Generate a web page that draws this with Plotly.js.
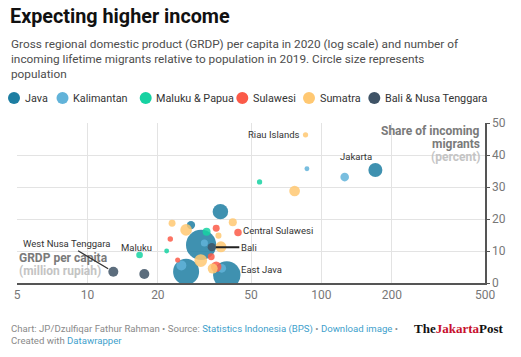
<!DOCTYPE html>
<html>
<head>
<meta charset="utf-8">
<script src="https://cdn.plot.ly/plotly-3.0.1.min.js"></script>
<style>
  html, body { margin: 0; padding: 0; background: #fff; }
  #chart { width: 521px; height: 357px; }
</style>
</head>
<body>
<div id="chart"></div>
<script>
// ---------- DATA ----------
const groups = ["Java", "Kalimantan", "Maluku & Papua", "Sulawesi", "Sumatra", "Bali & Nusa Tenggara"];
const groupColors = ["#1d7ea2", "#62b3d9", "#16d2a2", "#fb5a48", "#ffc872", "#3f5366"];

// GRDP per capita 2020 (million rupiah), share of incoming migrants (%), population (million)
const javaNames = ["Jakarta", "Banten", "West Java", "Central Java", "East Java", "Yogyakarta"];
const javaGrdp = [170, 37.0, 30.6, 26.4, 39.4, 27.7];
const javaMigr = [35.3, 22.3, 11.9, 3.5, 2.5, 18.1];
const javaPop = [10.6, 12.9, 49.3, 36.5, 40.7, 3.7];

const kalNames = ["North Kalimantan", "East Kalimantan", "Central Kalimantan", "South Kalimantan", "West Kalimantan"];
const kalGrdp = [86.7, 125.7, 31.6, 37.5, 25.2];
const kalMigr = [35.7, 33.1, 12.5, 4.6, 5.5];
const kalPop = [1.3, 4.0, 2.7, 4.1, 5.4];

const malNames = ["West Papua", "Papua", "North Maluku", "Maluku"];
const malGrdp = [54.4, 32.3, 21.8, 16.7];
const malMigr = [31.6, 16.0, 10.0, 8.75];
const malPop = [1.5, 3.4, 1.3, 2.4];

const sulNames = ["Central Sulawesi", "North Sulawesi", "Southeast Sulawesi", "Gorontalo", "West Sulawesi", "South Sulawesi"];
const sulGrdp = [44.0, 35.5, 33.8, 22.6, 24.3, 35.5];
const sulMigr = [15.8, 17.1, 8.2, 13.75, 7.2, 5.1];
const sulPop = [3.0, 2.6, 2.6, 1.6, 1.4, 6.0];

const sumNames = ["Riau Islands", "Riau", "Jambi", "Bengkulu", "West Sumatra", "Bangka Belitung", "South Sumatra", "Lampung", "North Sumatra"];
const sumGrdp = [85.5, 76.8, 41.8, 23.0, 26.4, 36.3, 37.2, 30.5, 34.3];
const sumMigr = [46.3, 28.75, 19.0, 18.7, 16.6, 14.8, 11.3, 7.0, 4.5];
const sumPop = [1.5, 6.2, 3.5, 2.6, 7.4, 2.0, 6.5, 8.7, 5.4];

const balNames = ["Bali", "West Nusa Tenggara", "East Nusa Tenggara"];
const balGrdp = [34.0, 12.9, 17.5];
const balMigr = [11.2, 3.5, 2.8];
const balPop = [3.7, 5.4, 5.4];

const xTicks = [5, 10, 20, 50, 100, 200, 500];
const yTicks = [0, 10, 20, 30, 40, 50];
const labelled = ["Riau Islands", "Jakarta", "Central Sulawesi", "Bali", "East Java", "West Nusa Tenggara", "Maluku"];

// ---------- BUILD ----------
const series = [
  [javaNames, javaGrdp, javaMigr, javaPop],
  [kalNames, kalGrdp, kalMigr, kalPop],
  [malNames, malGrdp, malMigr, malPop],
  [sulNames, sulGrdp, sulMigr, sulPop],
  [sumNames, sumGrdp, sumMigr, sumPop],
  [balNames, balGrdp, balMigr, balPop]
];

const FONT = "Roboto, 'Noto Sans', Arial, sans-serif";

const traces = series.map((s, i) => ({
  type: "scatter",
  mode: "markers",
  name: groups[i],
  text: s[0],
  x: s[1],
  y: s[2],
  marker: {
    size: s[3],
    sizemode: "area",
    sizeref: 0.108,
    color: groupColors[i],
    opacity: 0.85,
    line: { width: 0 }
  },
  hoverinfo: "text",
  showlegend: false
}));

// lookup of labelled points
const lookup = {};
series.forEach(s => s[0].forEach((n, j) => { lookup[n] = { x: s[1][j], y: s[2][j] }; }));

// pixel helpers for paper coordinates (plot area: x 17..485, y 123..283)
const PL = 17, PR = 485, PT = 123, PB = 283;
const pxX = p => (p - PL) / (PR - PL);
const pxY = p => (PB - p) / (PB - PT);

const annotations = [];
const shapes = [];

function paperText(text, xpx, ypx, opts) {
  annotations.push(Object.assign({
    text: text, xref: "paper", yref: "paper", x: pxX(xpx), y: pxY(ypx),
    xanchor: "left", yanchor: "middle", showarrow: false,
    font: { family: FONT, size: 12, color: "#333" }
  }, opts || {}));
}

// title + subtitle
paperText("<b>Expecting higher income</b>", 8, 16, { font: { family: FONT, size: 19.8, color: "#111" } });
const subLines = [
  "Gross regional domestic product (GRDP) per capita in 2020 (log scale) and number of",
  "incoming lifetime migrants relative to population in 2019. Circle size represents",
  "population"
];
subLines.forEach((t, i) => paperText(t, 9, 44.5 + i * 15, { font: { family: FONT, size: 11.8, color: "#4d4d4d" } }));

// legend (manual)
const legendCircleX = [14, 62.5, 145.7, 242.3, 309, 374.3];
groups.forEach((g, i) => {
  shapes.push({
    type: "circle", xref: "paper", yref: "paper",
    xsizemode: "pixel", ysizemode: "pixel",
    xanchor: pxX(legendCircleX[i]), yanchor: pxY(98),
    x0: -6, x1: 6, y0: -6, y1: 6,
    fillcolor: groupColors[i], line: { width: 0 }
  });
  paperText(g, legendCircleX[i] + 8.5, 98.5, { font: { family: FONT, size: 10.8, color: "#333" } });
});

// axis titles
paperText("<b>GRDP per capita</b>", 17, 258, { font: { family: FONT, size: 12, color: "#7a7a7a" } });
paperText("<b>(million rupiah)</b>", 17, 271, { font: { family: FONT, size: 12, color: "#c4c4c4" } });
paperText("<b>Share of incoming</b>", 482, 130.5, { xanchor: "right", font: { family: FONT, size: 12, color: "#7a7a7a" } });
paperText("<b>migrants</b>", 482, 143.5, { xanchor: "right", font: { family: FONT, size: 12, color: "#7a7a7a" } });
paperText("<b>(percent)</b>", 482, 156.5, { xanchor: "right", font: { family: FONT, size: 12, color: "#c4c4c4" } });

// footer
const linkC = "#3f9fcc";
paperText("Chart: JP/Dzulfiqar Fathur Rahman • Source: <span style='color:" + linkC + "'>Statistics Indonesia (BPS)</span> • <span style='color:" + linkC + "'>Download image</span> •",
  9, 328.5, { font: { family: FONT, size: 9.6, color: "#8a8a8a" } });
paperText("Created with <span style='color:" + linkC + "'>Datawrapper</span>",
  9, 340, { font: { family: FONT, size: 9.6, color: "#8a8a8a" } });
paperText("<b>The<span style='color:#c8102e'>Jakarta</span>Post</b>", 412, 328.5,
  { font: { family: "'Liberation Serif', 'DejaVu Serif', serif", size: 13, color: "#111" } });

// point labels
const labelFont = { family: FONT, size: 9.5, color: "#333" };
const labelStyle = {
  "Riau Islands": { xanchor: "right", xshift: -5, yshift: 0 },
  "Jakarta": { xanchor: "center", xshift: -19, yshift: 14 },
  "Central Sulawesi": { xanchor: "left", xshift: 3, yshift: 2 },
  "East Java": { xanchor: "left", xshift: 12, yshift: 6 },
  "Maluku": { xanchor: "center", xshift: -3, yshift: 8 }
};
labelled.forEach(n => {
  const p = lookup[n];
  if (n === "Bali") {
    annotations.push({ text: n, x: Math.log10(p.x), y: p.y, xref: "x", yref: "y",
      showarrow: true, ax: 37, ay: 0, arrowhead: 0, arrowwidth: 2, arrowcolor: "#222", standoff: 4,
      font: labelFont });
  } else if (n === "West Nusa Tenggara") {
    annotations.push({ text: n, x: Math.log10(p.x), y: p.y, xref: "x", yref: "y",
      showarrow: true, ax: -47, ay: -28, arrowhead: 0, arrowwidth: 1.3, arrowcolor: "#333", standoff: 6,
      font: labelFont });
  } else {
    const st = labelStyle[n];
    annotations.push(Object.assign({ text: n, x: Math.log10(p.x), y: p.y, xref: "x", yref: "y",
      showarrow: false, yanchor: "middle", font: labelFont }, st));
  }
});

const layout = {
  width: 521, height: 357,
  margin: { l: PL, r: 521 - PR, t: PT, b: 357 - PB, pad: 0 },
  paper_bgcolor: "#fff", plot_bgcolor: "#fff",
  font: { family: FONT },
  showlegend: false,
  hovermode: "closest",
  xaxis: {
    type: "log",
    range: [Math.log10(5), Math.log10(500)],
    tickvals: xTicks, ticktext: xTicks.map(String),
    showgrid: true, gridcolor: "#e3e3e3", gridwidth: 1,
    showline: true, linecolor: "#555", linewidth: 2,
    ticks: "", zeroline: false,
    tickfont: { family: FONT, size: 12, color: "#777" },
    fixedrange: true
  },
  yaxis: {
    side: "right",
    range: [0, 50],
    tickvals: yTicks,
    showgrid: true, gridcolor: "#e3e3e3", gridwidth: 1,
    showline: true, linecolor: "#555", linewidth: 1.5,
    ticks: "outside", ticklen: 3, tickcolor: "#555",
    zeroline: false,
    tickfont: { family: FONT, size: 12, color: "#777" },
    fixedrange: true
  },
  annotations: annotations,
  shapes: shapes
};

Plotly.newPlot("chart", traces, layout, { displayModeBar: false, staticPlot: true });
</script>
</body>
</html>
